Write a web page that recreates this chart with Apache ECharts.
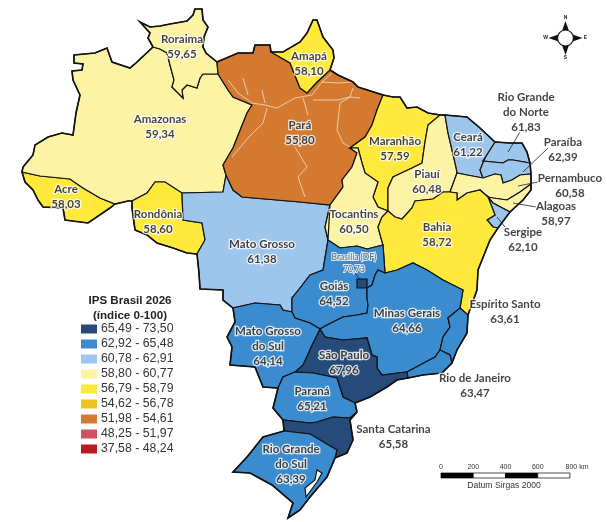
<!DOCTYPE html>
<html>
<head>
<meta charset="utf-8">
<title>IPS Brasil 2026</title>
<script src="https://cdn.jsdelivr.net/npm/echarts@6/dist/echarts.min.js"></script>
<style>
html, body { margin: 0; padding: 0; background: #fff; }
#chart { width: 607px; height: 522px; }
</style>
</head>
<body>
<div id="chart"></div>
<script>
var stateNames = ['Acre', 'Amazonas', 'Roraima', 'Rondônia', 'Mato Grosso', 'Pará', 'Amapá', 'Maranhão', 'Tocantins', 'Piauí', 'Ceará',
    'Rio Grande\ndo Norte', 'Paraíba', 'Pernambuco', 'Alagoas', 'Sergipe', 'Bahia', 'Goiás', 'Brasília (DF)', 'Minas Gerais',
    'Espírito Santo', 'Rio de Janeiro', 'São Paulo', 'Mato Grosso\ndo Sul', 'Paraná', 'Santa Catarina', 'Rio Grande\ndo Sul'];
var stateValues = [58.03, 59.34, 59.65, 58.60, 61.38, 55.80, 58.10, 57.59, 60.50, 60.48, 61.22,
    61.83, 62.39, 60.58, 58.97, 62.10, 58.72, 64.52, 70.73, 64.66,
    63.61, 63.47, 67.96, 64.14, 65.21, 65.58, 63.39];

// classes da legenda (da menor para a maior)
var classMin = [37.58, 48.25, 51.98, 54.62, 56.79, 58.80, 60.78, 62.92, 65.49];
var classMax = [48.24, 51.97, 54.61, 56.78, 58.79, 60.77, 62.91, 65.48, 73.50];
var classColors = ['#b81d24', '#cf545f', '#d47a30', '#eec41c', '#ffe93c', '#fcf3a4', '#9cc6ec', '#3a8ccf', '#264a7a'];

var scaleTicks = ['0', '200', '400', '600', '800 km'];

// no original o Pará (55,80) aparece na cor da classe 51,98 - 54,61
var colorOverrides = { 'Pará': '#d47a30' };

// geometria: divisas traçadas sobre a figura, cada uma uma vez só
var arcs = {
    rrOuter: [[153,47],[148,38],[150,33],[140,22],[150,27],[160,26],[170,24],[187,21],[193,15],[195,9],[202,9],[203,20],[208,27],[204,37],[203,47],[206,53],[217,62]],
    rrPa: [[217,62],[218,74]],
    rrAm: [[218,74],[203,74],[200,78],[197,88],[187,85],[182,90],[183,98],[172,87],[174,80],[170,65],[167,53],[160,49],[153,47]],
    amNorth: [[153,47],[137,62],[130,68],[112,62],[107,48],[95,53],[74,55],[74,63],[83,64],[82,70],[72,71],[73,80],[80,95],[76,113],[73,135],[62,133],[48,137],[35,145],[33,155],[23,167],[22,172]],
    acAm: [[22,172],[40,176],[70,179],[83,188],[100,198],[115,204]],
    acOuter: [[115,204],[110,208],[88,223],[65,220],[63,208],[43,207],[38,200],[33,190],[25,182],[22,172]],
    amBol: [[115,204],[128,201],[132,201]],
    amRo: [[132,201],[147,193],[155,182],[165,182],[182,193]],
    amMt: [[182,193],[223,192],[226,175]],
    amPa: [[226,175],[223,165],[233,148],[247,113],[252,105],[233,97],[228,90],[218,74]],
    roMt: [[182,193],[183,220],[202,223],[205,240],[197,254]],
    roOuter: [[197,254],[187,253],[173,248],[157,243],[147,235],[135,230],[132,208],[132,201]],
    mtOuter: [[197,254],[199,273],[200,289],[223,290],[223,300],[233,308]],
    mtMs: [[233,308],[255,303],[280,305],[283,310],[292,312]],
    mtGo: [[292,312],[292,298],[300,288],[310,275],[323,270],[328,240]],
    mtTo: [[328,240],[325,227],[330,205]],
    paMt: [[226,175],[233,190],[242,197],[300,202],[330,205]],
    paNorth: [[271,52],[270,45],[255,45],[253,53],[238,53],[217,62]],
    paTo: [[330,205],[343,187],[342,180],[352,167],[357,153],[350,148]],
    paMa: [[350,148],[365,137],[372,125],[377,110],[383,95]],
    paCoast: [[383,95],[358,87],[353,82],[338,75],[330,70]],
    apPa: [[271,52],[290,63],[300,88],[307,93],[317,82],[330,70]],
    apOuter: [[330,70],[334,58],[333,50],[323,37],[317,20],[313,20],[307,33],[300,42],[283,52],[271,52]],
    maCoast: [[383,95],[393,97],[400,97],[407,108],[417,107],[428,113],[440,115]],
    maPi: [[440,115],[428,125],[425,142],[422,163],[412,168],[393,177],[388,188],[388,211]],
    maTo: [[350,148],[358,148],[362,163],[365,173],[378,182],[373,197],[378,207],[388,211]],
    toBa: [[388,211],[382,217],[378,227],[383,245]],
    toGo: [[328,240],[340,248],[357,246],[367,249],[383,245]],
    piCoast: [[440,115],[445,115]],
    piCe: [[445,115],[448,133],[456,167],[457,173]],
    piPe: [[457,173],[450,192]],
    piBa: [[388,211],[395,217],[402,219],[412,208],[415,201],[433,199],[443,192],[450,192]],
    ceCoast: [[445,115],[467,117],[480,128],[495,142]],
    ceRn: [[495,142],[485,158]],
    cePb: [[485,158],[480,170],[483,178]],
    cePe: [[483,178],[467,175],[457,173]],
    rnCoast: [[495,142],[510,143],[522,143],[527,152],[530,163]],
    rnPb: [[485,158],[483,161],[493,162],[503,163],[508,160],[513,160],[530,163]],
    pbCoast: [[530,163],[531,174]],
    pbPe: [[531,174],[520,175],[512,180],[503,183],[501,175],[495,174],[483,178]],
    peCoast: [[531,174],[531,184]],
    peAl: [[531,184],[520,192],[507,200],[493,198],[488,197]],
    peBa: [[450,192],[457,193],[457,200],[467,193],[480,190],[488,197]],
    alCoast: [[531,184],[531,190],[523,200],[510,212]],
    alSe: [[488,197],[493,203],[510,212]],
    seCoast: [[510,212],[498,228]],
    seBa: [[488,197],[495,215],[487,220],[493,227],[498,228]],
    baCoast: [[498,228],[490,240],[478,270],[477,290],[468,315]],
    baEs: [[468,315],[460,308]],
    baMg: [[460,308],[463,290],[443,280],[427,270],[413,263],[397,270],[385,273]],
    baGo: [[383,245],[385,273]],
    goMg: [[385,273],[378,270],[375,275],[372,285],[367,288],[367,298],[368,305],[367,313],[357,315],[343,317],[327,325],[320,329]],
    goMs: [[320,329],[310,323],[295,318],[292,312]],
    mgEs: [[460,308],[448,318],[450,327],[443,337],[440,350]],
    mgRj: [[440,350],[435,357],[420,365],[407,372]],
    spMg: [[320,329],[325,337],[343,340],[367,338],[372,355],[377,357],[377,368],[382,375],[407,372]],
    esCoast: [[468,315],[467,333],[457,350],[452,363]],
    esRj: [[440,350],[450,355],[452,363]],
    rjCoast: [[452,363],[442,373],[423,375],[408,378]],
    spRj: [[408,378],[407,372]],
    spCoast: [[408,378],[397,380],[387,387],[370,397],[355,403]],
    prSp: [[295,372],[313,373],[337,378],[343,397],[355,403]],
    msSp: [[320,329],[312,345],[303,365],[295,372]],
    msOuter: [[233,308],[235,322],[227,337],[232,347],[230,365],[255,367],[263,387],[278,388]],
    msPr: [[278,388],[283,377],[295,372]],
    prOuter: [[278,388],[273,408],[283,420]],
    prSc: [[283,420],[310,423],[317,422],[333,417],[350,418],[357,412]],
    prCoast: [[357,412],[355,403]],
    scW: [[283,420],[284,431]],
    scRs: [[284,431],[310,434],[337,450],[335,458]],
    scCoast: [[357,412],[350,420],[353,440],[347,453],[335,458]],
    rsOuter: [[284,431],[263,437],[247,457],[233,472],[250,473],[272,485],[293,503],[288,518],[300,510],[310,497],[327,477],[335,458]]
};

// divisas externas, com traço mais grosso
var outerArcs = ['rrOuter', 'amNorth', 'acOuter', 'amBol', 'roOuter', 'mtOuter', 'msOuter', 'prOuter', 'scW', 'rsOuter', 'paNorth', 'apOuter',
    'paCoast', 'maCoast', 'piCoast', 'ceCoast', 'rnCoast', 'pbCoast', 'peCoast', 'alCoast', 'seCoast', 'baCoast', 'esCoast', 'rjCoast',
    'spCoast', 'prCoast', 'scCoast'];

// lagoa dos Patos, furo no Rio Grande do Sul
var lagoon = [[317,470],[322,473],[317,482],[306,497],[305,488],[315,480]];
var dfRing = [[357,279],[367,279],[367,288],[357,288],[357,279]];

var stateRings = {
    'Acre': ['acAm', 'acOuter'],
    'Amazonas': ['amNorth', 'acAm', 'amBol', 'amRo', 'amMt', 'amPa', 'rrAm'],
    'Roraima': ['rrOuter', 'rrPa', 'rrAm'],
    'Rondônia': ['amRo', 'roMt', 'roOuter'],
    'Mato Grosso': ['-amMt', 'roMt', 'mtOuter', 'mtMs', 'mtGo', 'mtTo', '-paMt'],
    'Pará': ['paNorth', 'rrPa', '-amPa', 'paMt', 'paTo', 'paMa', 'paCoast', '-apPa'],
    'Amapá': ['apPa', 'apOuter'],
    'Maranhão': ['maCoast', 'maPi', '-maTo', 'paMa'],
    'Tocantins': ['maTo', 'toBa', '-toGo', '-mtTo', 'paTo'],
    'Piauí': ['-maPi', 'piCoast', 'piCe', 'piPe', '-piBa'],
    'Ceará': ['ceCoast', 'ceRn', 'cePb', 'cePe', '-piCe'],
    'Rio Grande\ndo Norte': ['rnCoast', '-rnPb', '-ceRn'],
    'Paraíba': ['rnPb', 'pbCoast', 'pbPe', '-cePb'],
    'Pernambuco': ['-pbPe', 'peCoast', 'peAl', '-peBa', '-piPe', '-cePe'],
    'Alagoas': ['-peAl', 'alCoast', '-alSe'],
    'Sergipe': ['alSe', 'seCoast', '-seBa'],
    'Bahia': ['piBa', 'peBa', 'seBa', 'baCoast', 'baEs', 'baMg', '-baGo', '-toBa'],
    'Goiás': ['toGo', 'baGo', 'goMg', 'goMs', 'mtGo'],
    'Minas Gerais': ['-baMg', 'mgEs', 'mgRj', '-spMg', '-goMg'],
    'Espírito Santo': ['-baEs', 'esCoast', '-esRj', '-mgEs'],
    'Rio de Janeiro': ['esRj', 'rjCoast', 'spRj', '-mgRj'],
    'São Paulo': ['spMg', '-spRj', 'spCoast', '-prSp', '-msSp'],
    'Mato Grosso\ndo Sul': ['-mtMs', 'msOuter', 'msPr', '-msSp', 'goMs'],
    'Paraná': ['-msPr', 'prOuter', 'prSc', 'prCoast', '-prSp'],
    'Santa Catarina': ['-prSc', 'scW', 'scRs', '-scCoast'],
    'Rio Grande\ndo Sul': ['rsOuter', '-scRs']
};

// posição de cada rótulo, mesma ordem de stateNames
var labelAnchors = [[66,196.5],[160,127],[182,46.5],[158,221.5],[262,251.5],[300,132.5],[309,63.5],[395,148.5],[354,222],[427,182],[468,144.5],
    [526,112],[563,150],[570,185.5],[556,214],[523,239.5],[437,234.5],[334,293.5],[354,263],[407,320.5],
    [505,311.5],[475,385.5],[344,363],[268,346],[312,399],[393.5,437],[291,464]];

// linhas de chamada
var leaders = [
    [[520,132],[508,152]],
    [[548,148],[523,172]],
    [[538,182],[518,186]],
    [[536,207],[513,203]],
    [[505,227],[497,217]],
    [[355,273],[360,280]]
];

var rivers = [
    [[252,103],[265,105],[277,108],[295,98],[312,95],[322,82],[332,73]],
    [[322,82],[338,83],[353,82]],
    [[267,108],[263,123],[248,138],[232,157]],
    [[303,98],[308,115]],
    [[295,147],[307,167],[298,177],[305,197]],
    [[353,88],[350,97],[340,103],[337,130],[343,143],[350,147]],
    [[313,100],[338,100],[350,97],[360,98]],
    [[228,80],[238,93],[252,103]],
    [[243,78],[248,95]],
    [[262,90],[265,103]]
];

function buildRing(names) {
    var ring = [];
    names.forEach(function(n) {
        var rev = n.charAt(0) === '-';
        var pts = arcs[rev ? n.slice(1) : n].slice();
        if (rev) pts.reverse();
        ring = ring.concat(pts);
    });
    return ring;
}

function buildGeoJson() {
    var features = stateNames.map(function(name) {
        var coords;
        if (name === 'Brasília (DF)') {
            coords = [dfRing];
        } else {
            coords = [buildRing(stateRings[name])];
            if (name === 'Rio Grande\ndo Sul') coords.push(lagoon.concat([lagoon[0]]));
        }
        return { type: 'Feature', properties: { name: name }, geometry: { type: 'Polygon', coordinates: coords } };
    });
    return { type: 'FeatureCollection', features: features };
}

function fmt(v) {
    return v.toFixed(2).replace('.', ',');
}

window.onload = function() {
    var myChart = echarts.init(document.getElementById('chart'), null, { renderer: 'canvas' });
    echarts.registerMap('brasil', buildGeoJson());

    var mapData = stateNames.map(function(name, i) {
        var item = { name: name, value: stateValues[i] };
        if (colorOverrides[name]) item.itemStyle = { color: colorOverrides[name] };
        return item;
    });

    var labelData = stateNames.map(function(name, i) {
        var item = { name: name, value: labelAnchors[i], ips: stateValues[i] };
        if (name === 'Brasília (DF)') {
            item.label = { fontSize: 8.5, lineHeight: 12, color: '#444', fontWeight: 400, textBorderWidth: 2 };
        }
        return item;
    });

    var pieces = classMin.map(function(m, i) {
        return { min: m, max: classMax[i], color: classColors[i], label: fmt(m) + ' - ' + fmt(classMax[i]) };
    });

    var graphics = [];
    // escala
    var scaleX = [441, 473.25, 505.5, 537.75, 570];
    for (var i = 0; i < 4; i++) {
        graphics.push({ type: 'rect', shape: { x: scaleX[i], y: 473, width: scaleX[i + 1] - scaleX[i], height: 5 },
            style: { fill: i % 2 ? '#fff' : '#000', stroke: '#000', lineWidth: 0.7 } });
    }
    scaleTicks.forEach(function(t, i) {
        graphics.push({ type: 'text', x: scaleX[i] + (i === 4 ? 7 : 0), y: 467, style: { text: t, fill: '#333', font: '7px "Liberation Sans"', align: 'center', verticalAlign: 'middle' } });
    });
    graphics.push({ type: 'text', x: 504, y: 486, style: { text: 'Datum Sirgas 2000', fill: '#333', font: '8.6px "Liberation Sans"', align: 'center', verticalAlign: 'middle' } });

    // rosa dos ventos
    var cx = 565.5, cy = 38;
    [[0,-1,'N'],[0,1,'S'],[-1,0,'W'],[1,0,'E']].forEach(function(d) {
        var px = -d[1], py = d[0];
        graphics.push({ type: 'polygon', shape: { points: [
            [cx + d[0]*7 + px*3.5, cy + d[1]*7 + py*3.5],
            [cx + d[0]*17, cy + d[1]*17],
            [cx + d[0]*7 - px*3.5, cy + d[1]*7 - py*3.5]
        ] }, style: { fill: '#111' } });
        graphics.push({ type: 'text', x: cx + d[0]*20, y: cy + d[1]*20, style: { text: d[2], fill: '#222', font: 'bold 5px "Liberation Sans"', align: 'center', verticalAlign: 'middle' } });
    });
    graphics.push({ type: 'circle', shape: { cx: cx, cy: cy, r: 8 }, style: { fill: '#fff', stroke: '#111', lineWidth: 1.2 } });

    var option = {
        animation: false,
        title: {
            text: 'IPS Brasil 2026\n(índice 0-100)',
            left: 130, top: 293, textAlign: 'center', padding: 0,
            textStyle: { fontFamily: 'Liberation Sans', fontSize: 11.6, fontWeight: 'bold', color: '#222', lineHeight: 15 }
        },
        visualMap: {
            type: 'piecewise',
            seriesIndex: 0,
            pieces: pieces,
            orient: 'vertical',
            left: 81, top: 323, padding: 0,
            itemWidth: 16, itemHeight: 9, itemGap: 3, textGap: 4,
            itemSymbol: 'rect',
            selectedMode: false,
            hoverLink: false,
            showLabel: true,
            textStyle: { fontFamily: 'Liberation Sans', fontSize: 12.3, color: '#333' }
        },
        geo: {
            map: 'brasil',
            projection: { project: function(p) { return p; }, unproject: function(p) { return p; } },
            boundingCoords: [[0, 0], [607, 522]],
            left: 0, top: 0, width: 607, height: 522,
            roam: false, silent: true,
            itemStyle: { borderColor: '#111', borderWidth: 1.2, areaColor: '#fff' },
            label: { show: false },
            emphasis: { disabled: true }
        },
        series: [
            {
                type: 'map', geoIndex: 0, data: mapData, silent: true, label: { show: false }
            },
            {
                type: 'lines', coordinateSystem: 'geo', polyline: true, silent: true, z: 3,
                data: rivers.map(function(r) { return { coords: r }; }),
                lineStyle: { color: '#fff', width: 0.7, opacity: 0.85 }
            },
            {
                type: 'lines', coordinateSystem: 'geo', polyline: true, silent: true, z: 3,
                data: outerArcs.map(function(n) { return { coords: arcs[n] }; }),
                lineStyle: { color: '#111', width: 1.6, opacity: 1 }
            },
            {
                type: 'lines', coordinateSystem: 'geo', polyline: true, silent: true, z: 3,
                data: leaders.map(function(r) { return { coords: r }; }),
                lineStyle: { color: '#222', width: 0.8, opacity: 1 }
            },
            {
                type: 'scatter', coordinateSystem: 'geo', symbolSize: 0, silent: true, z: 5,
                data: labelData,
                label: {
                    show: true, position: 'inside', align: 'center', verticalAlign: 'middle',
                    fontFamily: 'Lato', fontSize: 11.5, fontWeight: 'bold', lineHeight: 15, color: '#111',
                    textBorderColor: '#fff', textBorderWidth: 2.5,
                    formatter: function(p) { return p.name + '\n' + fmt(p.data.ips); }
                }
            }
        ],
        graphic: { elements: graphics }
    };

    myChart.setOption(option);
};
</script>
</body>
</html>
